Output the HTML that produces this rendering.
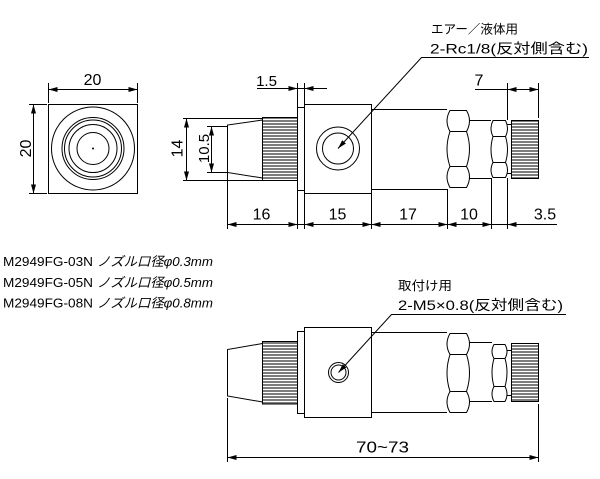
<!DOCTYPE html>
<html><head><meta charset="utf-8"><style>
html,body{margin:0;padding:0;background:#fff;}
svg{display:block;}
text{font-family:"Liberation Sans","Noto Sans CJK JP",sans-serif;fill:#000;}
</style></head><body>
<svg width="600" height="479" viewBox="0 0 600 479" xmlns="http://www.w3.org/2000/svg">
<defs>
<pattern id="k" width="4" height="3" patternUnits="userSpaceOnUse"><rect width="4" height="3" fill="#fff"/><rect width="4" height="2" fill="#7d7d7d"/></pattern>
</defs>
<rect width="600" height="479" fill="#fff"/>
<g stroke="#000" stroke-width="1" fill="none">
<!-- front view -->
<rect x="48.5" y="104.5" width="89" height="89"/>
<circle cx="93" cy="148.5" r="41.5"/>
<circle cx="93" cy="148.5" r="31"/>
<circle cx="93" cy="148.5" r="28.5"/>
<circle cx="93" cy="148.5" r="24"/>
<circle cx="93" cy="148.5" r="16"/>
<!-- front dims -->
<path d="M48.5,83V103 M137.5,83V103 M48.5,89.5H137.5 M29,104.5H47 M29,193.5H47 M33.5,104.5V193.5"/>

<!-- side view top -->
<path d="M262.5,120 L227.5,125 L227.5,172.5 L262.5,178"/>
<rect x="262.5" y="117.5" width="35" height="63" fill="url(#k)"/>
<rect x="297.5" y="107.5" width="7" height="83" fill="#fff"/>
<rect x="304.5" y="104.5" width="67" height="89" fill="#fff"/>
<circle cx="338" cy="148.5" r="21.5"/>
<circle cx="338" cy="148.5" r="15.5"/>
<path d="M371.5,109.5H447 M371.5,189.5H447"/>
<path d="M450,110.5 L466.5,110.5 Q472.5,121 466.5,131.5 Q472.5,149 466.5,166.5 Q472.5,177 466.5,187.5 L450,187.5 Q444,177 450,166.5 Q444,149 450,131.5 Q444,121 450,110.5 Z M450,131.5H466.5 M450,166.5H466.5"/>
<path d="M469.5,120.5H491 M469.5,178.5H491"/>
<path d="M493,120.5 L505.5,120.5 Q509.5,128.5 505.5,136.5 Q509.5,149.5 505.5,162.5 Q509.5,170 505.5,177.5 L493,177.5 Q489,170 493,162.5 Q489,149.5 493,136.5 Q489,128.5 493,120.5 Z M493,136.5H505.5 M493,162.5H505.5"/>
<path d="M507.5,124.5H511.5 M507.5,173.5H511.5"/>
<rect x="511.5" y="120.5" width="27" height="58" fill="url(#k)"/>

<!-- side dims -->
<path d="M183,118.5H262 M183,180.5H262 M186.5,118.5V180.5 M207,126.5H227 M207,172.5H227 M211.5,126.5V172.5"/>
<path d="M297.5,83V107 M304.5,83V104.5 M257,88.5H327"/>
<path d="M507.5,83V120 M538.5,83V118 M475,89.5H538.5"/>
<path d="M227.5,173V229 M297.5,191V229 M304.5,193.5V229 M371.5,193.5V229 M447.5,189V229 M491.5,178V229 M507.5,178V229 M227.5,224.5H557"/>

<!-- leader top -->
<path d="M338,148.5 L421.5,57.5 L589,57.5"/>

<!-- bottom view -->
<path d="M262.5,343.5 L227.5,349.5 L227.5,396 L262.5,402"/>
<rect x="262.5" y="341.5" width="35" height="62.5" fill="url(#k)"/>
<rect x="297.5" y="331.5" width="7" height="82" fill="#fff"/>
<rect x="304.5" y="327.5" width="67" height="90" fill="#fff"/>
<circle cx="338.5" cy="372.5" r="10"/>
<circle cx="338.5" cy="372.5" r="7.5"/>
<path d="M371.5,332.5H447 M371.5,412.5H447"/>
<path d="M450,333.5 L466.5,333.5 Q472.5,344 466.5,354.5 Q472.5,373 466.5,391.5 Q472.5,402 466.5,412.5 L450,412.5 Q444,402 450,391.5 Q444,373 450,354.5 Q444,344 450,333.5 Z M450,354.5H466.5 M450,391.5H466.5"/>
<path d="M469.5,342.5H492 M469.5,401.5H492"/>
<path d="M494,344.5 L505,344.5 Q509,351.5 505,358.5 Q509,372.5 505,386.5 Q509,394 505,401.5 L494,401.5 Q490,394 494,386.5 Q490,372.5 494,358.5 Q490,351.5 494,344.5 Z M494,358.5H505 M494,386.5H505"/>
<path d="M507,350.5H511 M507,395.5H511"/>
<rect x="511.5" y="343.5" width="27" height="58" fill="url(#k)"/>
<path d="M338.5,372.5 L391.5,314.5 L566,314.5"/>
<path d="M227.5,398V462 M538.5,404V462 M227.5,457.5H538.5"/>
</g>

<!-- arrowheads -->
<g fill="#000" stroke="none">
<circle cx="93" cy="148.5" r="1"/>
<polygon points="48.5,89.5 57.5,87 57.5,92"/>
<polygon points="137.5,89.5 128.5,87 128.5,92"/>
<polygon points="33.5,104.5 31,113.5 36,113.5"/>
<polygon points="33.5,193.5 31,184.5 36,184.5"/>
<polygon points="186.5,118.5 184,127.5 189,127.5"/>
<polygon points="186.5,180.5 184,171.5 189,171.5"/>
<polygon points="211.5,126.5 209,135.5 214,135.5"/>
<polygon points="211.5,172.5 209,163.5 214,163.5"/>
<polygon points="297.5,88.5 288.5,86 288.5,91"/>
<polygon points="304.5,88.5 313.5,86 313.5,91"/>
<polygon points="507.5,89.5 516.5,87 516.5,92"/>
<polygon points="538.5,89.5 529.5,87 529.5,92"/>
<polygon points="227.5,224.5 236.5,222 236.5,227"/>
<polygon points="297.5,224.5 288.5,222 288.5,227"/>
<polygon points="304.5,224.5 313.5,222 313.5,227"/>
<polygon points="371.5,224.5 362.5,222 362.5,227"/>
<polygon points="371.5,224.5 380.5,222 380.5,227"/>
<polygon points="447.5,224.5 438.5,222 438.5,227"/>
<polygon points="447.5,224.5 456.5,222 456.5,227"/>
<polygon points="491.5,224.5 482.5,222 482.5,227"/>
<polygon points="507.5,224.5 516.5,222 516.5,227"/>
<polygon points="227.5,457.5 236.5,455 236.5,460"/>
<polygon points="538.5,457.5 529.5,455 529.5,460"/>
<polygon points="338,148.5 345.9,143.5 342.2,140.2"/>
<polygon points="338.5,372.5 346.4,367.5 342.7,364.2"/>
</g>

<!-- texts -->
<g font-size="16">
<text x="92.5" y="85" text-anchor="middle">20</text>
<text transform="translate(31,148.5) rotate(-90)" text-anchor="middle">20</text>
<text transform="translate(182.5,148.5) rotate(-90)" text-anchor="middle">14</text>
<text transform="translate(209,148.5) rotate(-90)" text-anchor="middle" font-size="15">10.5</text>
<text x="266.5" y="86" text-anchor="middle" font-size="15">1.5</text>
<text x="479" y="85.5" text-anchor="middle">7</text>
<text x="261.5" y="219.5" text-anchor="middle">16</text>
<text x="337.5" y="219.5" text-anchor="middle">15</text>
<text x="408" y="219.5" text-anchor="middle">17</text>
<text x="469" y="219.5" text-anchor="middle">10</text>
<text x="545" y="219.5" text-anchor="middle">3.5</text>
<text x="356" y="452.5" textLength="53" lengthAdjust="spacingAndGlyphs">70~73</text>
</g>
<text x="431" y="33.5" font-size="12.5" textLength="87" lengthAdjust="spacingAndGlyphs">エアー／液体用</text>
<text x="430" y="53.5" font-size="14" textLength="158" lengthAdjust="spacingAndGlyphs">2-Rc1/8(反対側含む)</text>
<text x="398" y="290" font-size="12.5" textLength="54" lengthAdjust="spacingAndGlyphs">取付け用</text>
<text x="398" y="310" font-size="14" textLength="165" lengthAdjust="spacingAndGlyphs">2-M5×0.8(反対側含む)</text>

<g font-size="13">
<text x="3" y="266" textLength="90" lengthAdjust="spacingAndGlyphs">M2949FG-03N</text>
<text x="97" y="266" font-style="italic" textLength="116" lengthAdjust="spacingAndGlyphs">ノズル口径φ0.3mm</text>
<text x="3" y="287" textLength="90" lengthAdjust="spacingAndGlyphs">M2949FG-05N</text>
<text x="97" y="287" font-style="italic" textLength="116" lengthAdjust="spacingAndGlyphs">ノズル口径φ0.5mm</text>
<text x="3" y="307.5" textLength="90" lengthAdjust="spacingAndGlyphs">M2949FG-08N</text>
<text x="97" y="307.5" font-style="italic" textLength="116" lengthAdjust="spacingAndGlyphs">ノズル口径φ0.8mm</text>
</g>
</svg>
</body></html>
